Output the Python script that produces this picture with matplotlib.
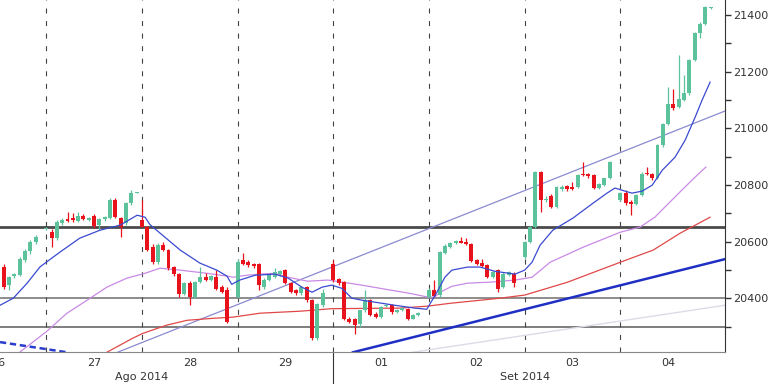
import matplotlib
matplotlib.use('Agg')
import matplotlib.pyplot as plt
import matplotlib.transforms as mtransforms
from matplotlib.ticker import MultipleLocator, FuncFormatter

# 30-min candles, one list per trading day: [open, high, low, close]
day_labels = ['26', '27', '28', '29', '01', '02', '03', '04']
month_labels = ['Ago 2014', 'Set 2014']
month_day = [2, 6]          # day index whose separator carries the month label
first_slot = [10, 0, 0, 0, 0, 0, 0, 0]

d26 = [[20510, 20520, 20432, 20440], [20446, 20480, 20430, 20476], [20477, 20490, 20470, 20486],
       [20482, 20545, 20478, 20540], [20534, 20575, 20528, 20565], [20565, 20605, 20555, 20598],
       [20598, 20622, 20592, 20617]]
d27 = [[20645, 20650, 20640, 20647], [20634, 20644, 20581, 20611], [20611, 20676, 20605, 20670],
       [20664, 20683, 20660, 20676], [20679, 20705, 20668, 20673], [20682, 20700, 20670, 20676],
       [20673, 20705, 20668, 20691], [20691, 20697, 20675, 20679], [20676, 20688, 20672, 20683],
       [20691, 20697, 20647, 20654], [20658, 20682, 20640, 20678], [20678, 20692, 20674, 20687],
       [20682, 20753, 20678, 20746], [20746, 20753, 20684, 20687], [20682, 20686, 20617, 20650],
       [20665, 20738, 20660, 20735], [20735, 20782, 20730, 20772], [20772, 20775, 20770, 20774]]
d28 = [[20676, 20746, 20650, 20652], [20652, 20656, 20565, 20570], [20580, 20590, 20520, 20527],
       [20528, 20595, 20522, 20588], [20587, 20597, 20565, 20570], [20570, 20574, 20500, 20505],
       [20511, 20515, 20480, 20485], [20487, 20490, 20405, 20415], [20415, 20458, 20410, 20455],
       [20454, 20460, 20375, 20405], [20405, 20462, 20400, 20458], [20458, 20511, 20452, 20475],
       [20475, 20490, 20460, 20464], [20464, 20482, 20460, 20478], [20475, 20500, 20430, 20434],
       [20440, 20446, 20418, 20422], [20428, 20440, 20312, 20316]]
d29 = [[20405, 20540, 20400, 20528], [20534, 20560, 20518, 20522], [20527, 20535, 20510, 20516],
       [20520, 20526, 20505, 20512], [20522, 20526, 20428, 20446], [20440, 20470, 20432, 20464],
       [20464, 20485, 20460, 20481], [20475, 20505, 20470, 20493], [20485, 20500, 20480, 20496],
       [20498, 20502, 20450, 20455], [20452, 20456, 20418, 20422], [20428, 20432, 20412, 20417],
       [20417, 20444, 20412, 20440], [20440, 20444, 20385, 20393], [20393, 20396, 20252, 20258],
       [20258, 20382, 20252, 20378], [20375, 20432, 20370, 20420]]
d01 = [[20522, 20534, 20458, 20464], [20468, 20472, 20448, 20452], [20458, 20462, 20322, 20328],
       [20328, 20332, 20312, 20316], [20325, 20330, 20275, 20305], [20308, 20360, 20300, 20357],
       [20357, 20428, 20352, 20393], [20393, 20398, 20336, 20340], [20345, 20350, 20330, 20334],
       [20334, 20372, 20330, 20369], [20372, 20380, 20368, 20376], [20375, 20380, 20345, 20352],
       [20352, 20362, 20348, 20360], [20358, 20368, 20354, 20364], [20363, 20367, 20322, 20328],
       [20328, 20344, 20325, 20340], [20340, 20350, 20337, 20346]]
d02 = [[20405, 20435, 20400, 20430], [20430, 20464, 20403, 20407], [20410, 20568, 20405, 20564],
       [20560, 20590, 20555, 20584], [20582, 20598, 20578, 20594], [20594, 20606, 20590, 20603],
       [20603, 20617, 20595, 20596], [20598, 20612, 20588, 20590], [20590, 20594, 20528, 20532],
       [20534, 20540, 20518, 20522], [20526, 20540, 20510, 20513], [20518, 20522, 20470, 20475],
       [20475, 20497, 20470, 20493], [20499, 20503, 20422, 20434], [20440, 20492, 20436, 20487],
       [20482, 20497, 20478, 20493], [20487, 20492, 20440, 20452]]
d03 = [[20546, 20602, 20540, 20599], [20599, 20656, 20595, 20652], [20652, 20848, 20648, 20846],
       [20846, 20848, 20705, 20746], [20746, 20760, 20740, 20752], [20760, 20768, 20718, 20723],
       [20723, 20796, 20718, 20793], [20785, 20800, 20780, 20793], [20795, 20800, 20780, 20785],
       [20793, 20811, 20782, 20787], [20793, 20838, 20788, 20835], [20840, 20882, 20832, 20836],
       [20838, 20842, 20826, 20830], [20835, 20838, 20784, 20788], [20788, 20808, 20784, 20805],
       [20800, 20826, 20796, 20823], [20826, 20885, 20822, 20882]]
d04 = [[20746, 20775, 20742, 20770], [20770, 20782, 20730, 20735], [20740, 20745, 20695, 20733],
       [20732, 20768, 20728, 20764], [20764, 20845, 20760, 20840], [20842, 20864, 20836, 20838],
       [20838, 20842, 20818, 20823], [20823, 20945, 20820, 20941], [20941, 21020, 20935, 21015],
       [21015, 21147, 21010, 21086], [21086, 21138, 21064, 21070], [21074, 21259, 21070, 21102],
       [21100, 21188, 21096, 21123], [21123, 21245, 21118, 21241], [21241, 21340, 21236, 21335],
       [21335, 21375, 21318, 21370], [21370, 21432, 21365, 21427], [21424, 21427, 21422, 21426]]
days = [d26, d27, d28, d29, d01, d02, d03, d04]
slots_per_day = 18

# moving averages (x in candle slots)
ma_fast_x = [9.3, 11.8, 14.4, 16.8, 18.0, 20.6, 24.3, 28.1, 31.9, 35.1, 36.6, 37.5, 39.4, 43.2, 46.9,
             50.1, 52.0, 52.9, 54.4, 57.3, 61.0, 63.5, 66.1, 68.0, 69.9, 71.7, 73.6, 75.5, 77.4,
             79.8, 83.6, 87.3, 89.6, 91.5, 93.0, 94.3, 97.3, 99.6, 102.4, 106.2, 108.0, 109.4,
             110.9, 113.3, 117.1, 120.9, 123.5, 125.0, 126.9, 128.2, 130.1, 132.0, 133.9, 136.3,
             138.2, 140.1, 141.4, 142.9]
ma_fast = [20375, 20400, 20453, 20510, 20527, 20563, 20612, 20640, 20658, 20693, 20686, 20660, 20630,
           20570, 20524, 20499, 20478, 20449, 20464, 20481, 20485, 20471, 20439, 20421, 20439, 20446,
           20435, 20400, 20393, 20386, 20375, 20365, 20361, 20421, 20474, 20499, 20510, 20510, 20495,
           20485, 20499, 20527, 20587, 20640, 20683, 20736, 20771, 20789, 20778, 20771, 20778, 20799,
           20852, 20898, 20958, 21040, 21100, 21163]
ma_mid_x = [13.0, 18.1, 21.9, 25.7, 29.4, 33.2, 36.6, 39.4, 43.2, 48.2, 52.0, 53.1, 55.7, 58.2, 61.0,
            63.5, 67.2, 71.0, 73.6, 77.4, 81.7, 86.1, 89.8, 91.1, 92.1, 94.3, 97.3, 101.8, 106.2,
            109.4, 112.8, 119.0, 126.0, 129.7, 132.5, 134.4, 137.6, 140.1, 142.1]
ma_mid = [20209, 20283, 20347, 20393, 20439, 20471, 20488, 20506, 20499, 20488, 20478, 20474, 20481,
          20485, 20488, 20474, 20460, 20464, 20457, 20446, 20432, 20418, 20404, 20404, 20421, 20442,
          20453, 20457, 20464, 20474, 20527, 20580, 20633, 20651, 20686, 20722, 20782, 20828, 20863]
ma_slow_x = [29.4, 34.3, 36.2, 40.7, 44.5, 49.4, 53.1, 58.2, 65.7, 71.7, 84.5, 89.8, 94.0, 103.4,
             108.0, 116.0, 126.0, 132.2, 137.3, 142.9]
ma_slow = [20209, 20259, 20276, 20305, 20322, 20329, 20333, 20347, 20354, 20363, 20365, 20372, 20382,
           20400, 20411, 20456, 20527, 20570, 20630, 20686]

# support / resistance levels and trend lines (two points each)
levels = [20650, 20400, 20300]
channel_x, channel_y = [31.4, 145.7], [20209, 21061]
trend_x, trend_y = [75.7, 145.7], [20209, 20538]
old_trend_x, old_trend_y = [9.3, 21.9], [20245, 20209]
faint_x, faint_y = [86.9, 145.7], [20209, 20375]

green, red = '#5cc29c', '#e8121c'
txt = '#333333'

fig = plt.figure(figsize=(7.68, 3.84), dpi=100)
ax = fig.add_axes([0, 32 / 384, 725 / 768, 352 / 384])
ax.set_xlim(9.3, 145.7)
ax.set_ylim(20210, 21453)

# levels
ax.axhline(levels[0], color='#4a4a4a', lw=2.0, zorder=1)
ax.axhline(levels[1], color='#6e6e6e', lw=1.1, zorder=1)
ax.axhline(levels[2], color='#5a5a5a', lw=1.1, zorder=1)

# day separators
for d in range(1, len(days)):
    ax.axvline(d * slots_per_day, color='#444444', lw=0.8, ls=(0, (4.5, 6.8)), zorder=1)

# trend lines
ax.plot(channel_x, channel_y, color='#8a8ad0', lw=0.9, zorder=2)
ax.plot(trend_x, trend_y, color='#1f2fc4', lw=1.8, zorder=2)
ax.plot(old_trend_x, old_trend_y, color='#2a3ccc', lw=1.8, ls=(0, (2.5, 1.5)), zorder=2)
ax.plot(faint_x, faint_y, color='#dcdce8', lw=1.0, zorder=1)

# moving averages
ax.plot(ma_slow_x, ma_slow, color='#e04848', lw=0.9, zorder=2)
ax.plot(ma_mid_x, ma_mid, color='#c98ae6', lw=0.9, zorder=2)
ax.plot(ma_fast_x, ma_fast, color='#3a4ad0', lw=0.9, zorder=4)

# candles
for d, day in enumerate(days):
    for j, (o, h, l, c) in enumerate(day):
        x = d * slots_per_day + first_slot[d] + j
        col = green if c >= o else red
        ax.vlines(x, l, h, color=col, lw=0.9, zorder=3)
        body = max(abs(c - o), 3)
        ax.bar(x, body, bottom=min(o, c), width=0.75, color=col, edgecolor='none', zorder=3)

# axes styling
for s in ['left', 'top']:
    ax.spines[s].set_visible(False)
ax.spines['right'].set_color('#333333')
ax.spines['bottom'].set_color('#888888')
ax.yaxis.tick_right()
ax.yaxis.set_major_locator(MultipleLocator(100))
ax.yaxis.set_major_formatter(FuncFormatter(lambda v, p: '%d' % v if round(v) % 200 == 0 else ''))
ax.tick_params(axis='y', direction='out', length=4, width=1, color='#333333',
               labelsize=8, labelcolor=txt, pad=2)
ax.set_xticks([])

trans = mtransforms.blended_transform_factory(ax.transData, ax.transAxes)
for d, lab in enumerate(day_labels):
    ax.text(d * slots_per_day + 9, -0.03, lab, transform=trans, ha='center', va='center',
            fontsize=8, color=txt, clip_on=False)
for m, lab in zip(month_day, month_labels):
    ax.text(m * slots_per_day, -0.07, lab, transform=trans, ha='center', va='center',
            fontsize=8, color=txt, clip_on=False)
# month boundary tick
ax.plot([4 * slots_per_day] * 2, [0, -0.1], transform=trans, color='#333333', lw=0.8,
        clip_on=False)

fig.savefig('out.png', dpi=100)
